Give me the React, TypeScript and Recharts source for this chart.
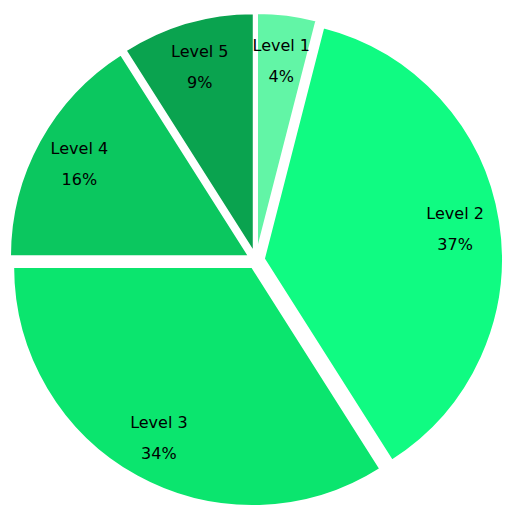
import { Pie, PieChart, Sector, Cell } from "recharts";

const levels = ["Level 1", "Level 2", "Level 3", "Level 4", "Level 5"];
const shares = [4, 37, 34, 16, 9];
const colors = ["#62f5a6", "#10fb82", "#0be56e", "#0bc75f", "#0aa34f"];

const data = levels.map((name, i) => ({ name, value: shares[i] }));

const RAD = Math.PI / 180;
const EXPLODE = 8;

function shift(cx: number, cy: number, angle: number, r: number) {
  return { x: cx + r * Math.cos(-angle * RAD), y: cy + r * Math.sin(-angle * RAD) };
}

function ExplodedSector(props: any) {
  const p = shift(props.cx, props.cy, props.midAngle, EXPLODE);
  return <Sector {...props} cx={p.x} cy={p.y} stroke="#fff" strokeWidth={2} />;
}

function SliceLabel(props: any) {
  const { cx, cy, midAngle, outerRadius, name, value } = props;
  const c = shift(cx, cy, midAngle, EXPLODE);
  const p = shift(c.x, c.y, midAngle, outerRadius * 0.81);
  return (
    <text
      x={p.x}
      y={p.y}
      textAnchor="middle"
      fill="#000"
      fontFamily="DejaVu Sans"
      fontSize={16}
    >
      <tspan x={p.x} dy={-9}>{name}</tspan>
      <tspan x={p.x} dy={31}>{value}%</tspan>
    </text>
  );
}

export default function App() {
  return (
    <div style={{ position: "absolute", left: 0, top: 0, width: 506, height: 512, background: "#fff" }}>
      <PieChart width={506} height={512} margin={{ top: 0, right: 0, bottom: 0, left: 0 }}>
        <Pie
          data={data}
          dataKey="value"
          nameKey="name"
          cx={256}
          cy={260}
          outerRadius={239}
          startAngle={90}
          endAngle={-270}
          shape={ExplodedSector}
          label={SliceLabel}
          labelLine={false}
          isAnimationActive={false}
        >
          {data.map((d, i) => (
            <Cell key={d.name} fill={colors[i]} />
          ))}
        </Pie>
      </PieChart>
    </div>
  );
}
